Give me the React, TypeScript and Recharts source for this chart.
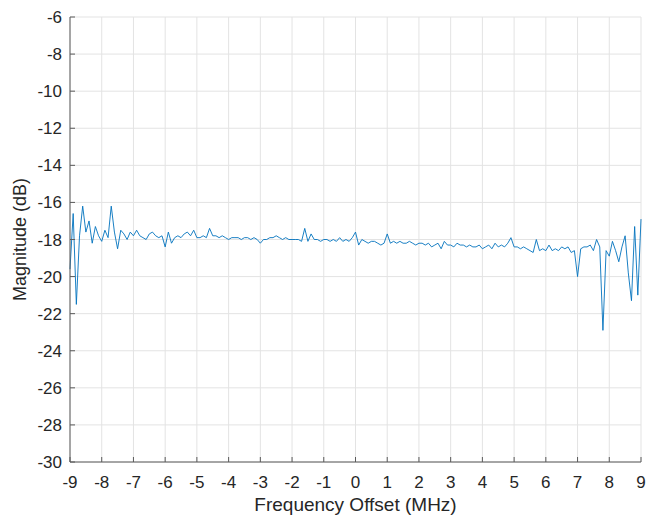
import { LineChart, Line, XAxis, YAxis, CartesianGrid } from "recharts";

// sampled trace, -9 MHz .. +9 MHz in 0.1 MHz steps
const FREQ_START = -9;
const FREQ_STEP = 0.1;

const MAGNITUDE_DB = [
  -19.6, -16.6, -21.5, -17.8, -16.2, -17.6, -17.0, -18.2, -17.3, -17.8,
  -18.1, -17.5, -17.9, -16.2, -17.6, -18.5, -17.5, -17.7, -18.0, -17.6,
  -17.8, -17.5, -17.8, -17.9, -18.0, -17.7, -17.6, -17.8, -17.9, -17.8,
  -18.4, -17.6, -18.2, -17.9, -17.8, -17.9, -17.7, -17.6, -17.8, -17.5,
  -17.9, -17.9, -17.8, -17.9, -17.4, -17.8, -17.8, -17.9, -17.8, -17.9,
  -18.0, -17.9, -17.9, -17.9, -18.0, -17.9, -17.9, -18.0, -17.9, -18.0,
  -18.2, -18.0, -18.0, -17.9, -17.9, -17.8, -17.9, -18.0, -17.9, -18.0,
  -18.0, -18.0, -18.0, -18.1, -17.4, -18.1, -17.7, -18.0, -18.0, -18.1,
  -18.0, -18.0, -18.1, -18.0, -18.1, -17.9, -18.1, -18.0, -18.1, -17.9,
  -17.6, -18.3, -18.0, -18.1, -18.2, -18.1, -18.1, -18.2, -18.3, -18.2,
  -17.7, -18.2, -18.1, -18.2, -18.1, -18.2, -18.2, -18.1, -18.2, -18.3,
  -18.2, -18.2, -18.3, -18.2, -18.4, -18.3, -18.2, -18.5, -18.1, -18.3,
  -18.3, -18.4, -18.2, -18.3, -18.3, -18.4, -18.3, -18.4, -18.4, -18.3,
  -18.5, -18.4, -18.3, -18.5, -18.2, -18.4, -18.3, -18.4, -18.2, -17.9,
  -18.4, -18.4, -18.5, -18.4, -18.5, -18.6, -18.7, -18.0, -18.6, -18.5,
  -18.6, -18.3, -18.6, -18.5, -18.6, -18.4, -18.5, -18.4, -18.7, -18.6,
  -20.0, -18.5, -18.4, -18.4, -18.3, -18.6, -18.0, -18.4, -22.9, -18.6,
  -18.9, -18.1, -18.6, -19.2, -18.4, -17.8, -19.8, -21.3, -17.3, -21.0,
  -16.9,
];

const X_TICKS = [-9, -8, -7, -6, -5, -4, -3, -2, -1, 0, 1, 2, 3, 4, 5, 6, 7, 8, 9];
const Y_TICKS = [-30, -28, -26, -24, -22, -20, -18, -16, -14, -12, -10, -8, -6];

const data = MAGNITUDE_DB.map((mag, i) => ({
  freq: Number((FREQ_START + i * FREQ_STEP).toFixed(2)),
  mag,
}));

const FONT = "'Liberation Sans', Arial, Helvetica, sans-serif";
const AXIS = "#5a5a5a";
const TEXT = "#262626";

export default function App() {
  return (
    <div style={{ position: "absolute", left: 0, top: 0, background: "#fff" }}>
      <LineChart
        width={648}
        height={519}
        data={data}
        margin={{ top: 17, right: 7, left: 0, bottom: 0 }}
        style={{ fontFamily: FONT }}
      >
        <CartesianGrid stroke="#e3e3e3" strokeWidth={1} />
        <XAxis
          dataKey="freq"
          type="number"
          domain={[-9, 9]}
          ticks={X_TICKS}
          height={57}
          stroke={AXIS}
          tickSize={-5}
          tickMargin={19}
          tick={{ fill: TEXT, fontSize: 17 }}
          interval={0}
          label={{
            value: "Frequency Offset (MHz)",
            position: "insideBottom",
            offset: 8,
            fill: TEXT,
            fontSize: 19,
          }}
        />
        <XAxis
          xAxisId="top"
          dataKey="freq"
          type="number"
          orientation="top"
          domain={[-9, 9]}
          ticks={X_TICKS}
          height={0}
          stroke={AXIS}
          tickSize={-5}
          tick={false}
        />
        <YAxis
          type="number"
          domain={[-30, -6]}
          ticks={Y_TICKS}
          width={70}
          stroke={AXIS}
          tickSize={-5}
          tickMargin={13}
          tick={{ fill: TEXT, fontSize: 17 }}
          interval={0}
          label={{
            value: "Magnitude (dB)",
            angle: -90,
            position: "insideLeft",
            offset: 20,
            fill: TEXT,
            fontSize: 18,
            style: { textAnchor: "middle" },
          }}
        />
        <YAxis
          yAxisId="right"
          type="number"
          orientation="right"
          domain={[-30, -6]}
          ticks={Y_TICKS}
          width={0}
          stroke={AXIS}
          tickSize={-5}
          tick={false}
        />
        <Line
          type="linear"
          dataKey="mag"
          stroke="#0072BD"
          strokeWidth={0.9}
          dot={false}
          isAnimationActive={false}
        />
      </LineChart>
    </div>
  );
}
